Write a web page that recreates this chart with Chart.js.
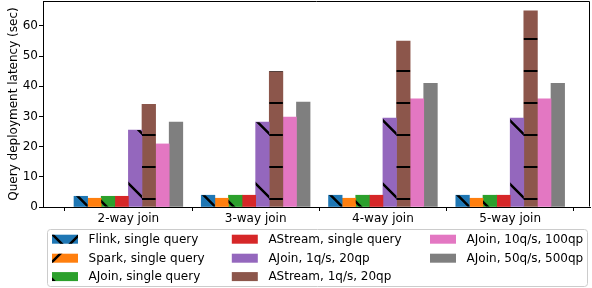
<!DOCTYPE html>
<html>
<head>
<meta charset="utf-8">
<script src="https://cdn.jsdelivr.net/npm/chart.js@4"></script>
<style>
html, body { margin: 0; padding: 0; background: #fff; }
#wrap { width: 592px; height: 288px; position: relative; }
</style>
</head>
<body>
<div id="wrap"><canvas id="latency_chart"></canvas></div>
<script>
// categories and values (sec)
var categories = ['2-way join', '3-way join', '4-way join', '5-way join'];
var seriesLabels = [
    'Flink, single query',
    'Spark, single query',
    'AJoin, single query',
    'AStream, single query',
    'AJoin, 1q/s, 20qp',
    'AStream, 1q/s, 20qp',
    'AJoin, 10q/s, 100qp',
    'AJoin, 50q/s, 500qp'
];
var flinkSingle   = [3.55, 3.9, 3.9, 3.9];
var sparkSingle   = [2.9, 2.9, 2.9, 2.9];
var ajoinSingle   = [3.55, 3.9, 3.9, 3.9];
var astreamSingle = [3.55, 3.9, 3.9, 3.9];
var ajoin1q       = [25.5, 28.1, 29.5, 29.5];
var astream1q     = [34.0, 44.9, 55.0, 65.0];
var ajoin10q      = [20.9, 29.8, 35.8, 35.8];
var ajoin50q      = [28.1, 34.8, 41.0, 41.0];
var yTicks = [0, 10, 20, 30, 40, 50, 60];

var seriesValues = [flinkSingle, sparkSingle, ajoinSingle, astreamSingle,
                    ajoin1q, astream1q, ajoin10q, ajoin50q];
var colors = ['#1f77b4', '#ff7f0e', '#2ca02c', '#d62728',
              '#9467bd', '#8c564b', '#e377c2', '#7f7f7f'];

// sparse hatches, anchored to the canvas like matplotlib does it
var hatches = [
    [{dir: '\\', period: 63.5, offset: 55, width: 2.5}, {dir: '/', period: 63.5, offset: 314, width: 2.5}],
    [{dir: '/', period: 63.5, offset: 314, width: 2.5}],
    [{dir: '\\', period: 63.5, offset: 36.5, width: 2.5}],
    [],
    [{dir: '\\', period: 63.5, offset: 55, width: 2.5}],
    [{dir: '-', period: 32, offset: 7, width: 2}],
    [],
    []
];

function hatchRect(ctx, x0, y0, x1, y1, specs) {
    if (!specs || !specs.length) return;
    ctx.save();
    ctx.beginPath();
    ctx.rect(x0, y0, x1 - x0, y1 - y0);
    ctx.clip();
    ctx.strokeStyle = '#000';
    specs.forEach(function (s) {
        ctx.lineWidth = s.width;
        ctx.beginPath();
        var k, c, lo, hi;
        if (s.dir === '\\') {
            lo = Math.ceil((y0 - x1 - s.offset) / s.period);
            hi = Math.floor((y1 - x0 - s.offset) / s.period);
            for (k = lo - 1; k <= hi + 1; k++) {
                c = s.offset + k * s.period;
                ctx.moveTo(x0 - 3, x0 - 3 + c);
                ctx.lineTo(x1 + 3, x1 + 3 + c);
            }
        } else if (s.dir === '/') {
            lo = Math.ceil((x0 + y0 - s.offset) / s.period);
            hi = Math.floor((x1 + y1 - s.offset) / s.period);
            for (k = lo - 1; k <= hi + 1; k++) {
                c = s.offset + k * s.period;
                ctx.moveTo(x0 - 3, c - x0 + 3);
                ctx.lineTo(x1 + 3, c - x1 - 3);
            }
        } else {
            lo = Math.ceil((y0 - s.offset) / s.period);
            hi = Math.floor((y1 - s.offset) / s.period);
            for (k = lo - 1; k <= hi + 1; k++) {
                c = s.offset + k * s.period;
                ctx.moveTo(x0 - 1, c);
                ctx.lineTo(x1 + 1, c);
            }
        }
        ctx.stroke();
    });
    ctx.restore();
}

var hatchPlugin = {
    id: 'hatch',
    afterDatasetsDraw: function (chart) {
        var ctx = chart.ctx;
        chart.data.datasets.forEach(function (ds, i) {
            var meta = chart.getDatasetMeta(i);
            meta.data.forEach(function (bar) {
                var p = bar.getProps(['x', 'y', 'base', 'width'], true);
                hatchRect(ctx, p.x - p.width / 2, Math.min(p.y, p.base),
                          p.x + p.width / 2, Math.max(p.y, p.base), hatches[i]);
            });
        });
    }
};

// top and right spines
var framePlugin = {
    id: 'frame',
    afterDraw: function (chart) {
        var a = chart.chartArea, ctx = chart.ctx;
        var l = Math.round(a.left) + 0.5, r = Math.round(a.right) - 0.5;
        var t = Math.round(a.top) + 0.5, b = Math.round(a.bottom) - 0.5;
        ctx.save();
        ctx.strokeStyle = '#000';
        ctx.lineWidth = 1;
        ctx.beginPath();
        ctx.moveTo(l, t);
        ctx.lineTo(r, t);
        ctx.lineTo(r, b);
        ctx.stroke();
        ctx.restore();
    }
};

// legend in three columns, filled column by column
var legendPlugin = {
    id: 'gridLegend',
    afterDraw: function (chart) {
        var ctx = chart.ctx;
        var box = {x: 47.5, y: 229.5, w: 540, h: 57, r: 3};
        var colX = [52, 231.8, 430];
        var rowY = [239.2, 258.2, 276.6];
        ctx.save();
        ctx.beginPath();
        ctx.moveTo(box.x + box.r, box.y);
        ctx.arcTo(box.x + box.w, box.y, box.x + box.w, box.y + box.h, box.r);
        ctx.arcTo(box.x + box.w, box.y + box.h, box.x, box.y + box.h, box.r);
        ctx.arcTo(box.x, box.y + box.h, box.x, box.y, box.r);
        ctx.arcTo(box.x, box.y, box.x + box.w, box.y, box.r);
        ctx.closePath();
        ctx.fillStyle = 'rgba(255,255,255,0.8)';
        ctx.fill();
        ctx.strokeStyle = '#cccccc';
        ctx.lineWidth = 1;
        ctx.stroke();

        ctx.font = '12px "DejaVu Sans"';
        ctx.textBaseline = 'middle';
        ctx.textAlign = 'left';
        chart.data.datasets.forEach(function (ds, i) {
            var col = Math.floor(i / 3), row = i % 3;
            var px = colX[col], py = rowY[row] - 4.5;
            ctx.fillStyle = ds.backgroundColor;
            ctx.fillRect(px, py, 26, 9);
            hatchRect(ctx, px, py, px + 26, py + 9, hatches[i]);
            ctx.fillStyle = '#000';
            ctx.fillText(ds.label, px + 36.6, rowY[row] + 0.5);
        });
        ctx.restore();
    }
};

var tickFont = {family: '"DejaVu Sans"', size: 12};

var datasets = seriesLabels.map(function (label, i) {
    return {
        label: label,
        backgroundColor: colors[i],
        borderWidth: 0,
        data: seriesValues[i].map(function (v, j) { return {x: j, y: v}; })
    };
});

var ctx = document.getElementById('latency_chart').getContext('2d');
var latencyChart = new Chart(ctx, {
    type: 'bar',
    data: {datasets: datasets},
    plugins: [hatchPlugin, framePlugin, legendPlugin],
    options: {
        responsive: true,
        maintainAspectRatio: false,
        animation: false,
        barThickness: 13.6,
        layout: {padding: {top: 1, right: 2, left: 0, bottom: 0}},
        plugins: {
            legend: {display: false},
            tooltip: {enabled: false}
        },
        scales: {
            x: {
                type: 'linear',
                min: -0.671,
                max: 3.627,
                offset: false,
                grid: {display: true, drawOnChartArea: false, drawTicks: true, tickLength: 4, color: '#000'},
                border: {display: true, color: '#000', width: 1},
                afterBuildTicks: function (scale) {
                    scale.ticks = categories.map(function (c, i) { return {value: i}; });
                },
                afterFit: function (scale) {
                    scale.height = 81;
                    scale.paddingLeft = 0;
                    scale.paddingRight = 0;
                },
                ticks: {
                    font: tickFont,
                    color: '#000',
                    padding: 1,
                    maxRotation: 0,
                    autoSkip: false,
                    callback: function (value) { return categories[value]; }
                }
            },
            y: {
                min: 0,
                max: 68.25,
                grid: {display: true, drawOnChartArea: false, drawTicks: true, tickLength: 4, color: '#000'},
                border: {display: true, color: '#000', width: 1},
                afterBuildTicks: function (scale) {
                    scale.ticks = yTicks.map(function (v) { return {value: v}; });
                },
                afterFit: function (scale) {
                    scale.width = 43;
                    scale.paddingTop = 0;
                    scale.paddingBottom = 0;
                },
                ticks: {font: tickFont, color: '#000', padding: 1},
                title: {
                    display: true,
                    text: 'Query deployment latency (sec)',
                    font: tickFont,
                    color: '#000',
                    padding: {top: 7, bottom: 0}
                }
            }
        }
    }
});
</script>
</body>
</html>
